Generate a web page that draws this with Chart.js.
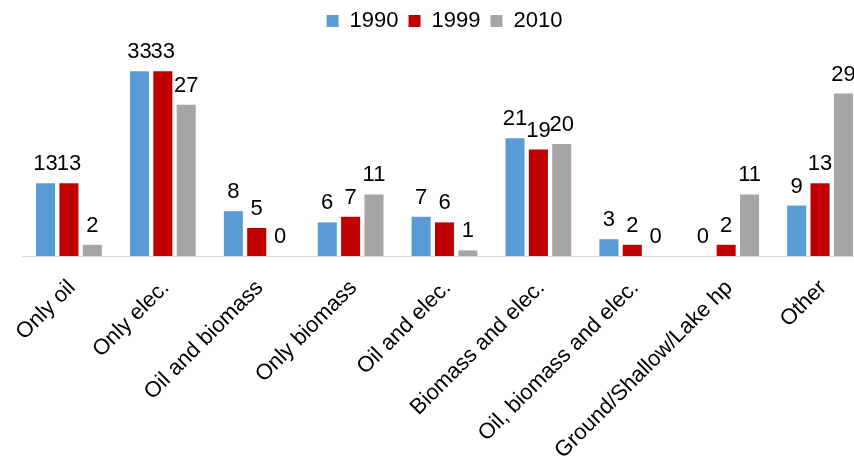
<!DOCTYPE html>
<html>
<head>
<meta charset="utf-8">
<script src="https://cdn.jsdelivr.net/npm/chart.js@4/dist/chart.umd.min.js"></script>
<style>
  html, body { margin: 0; padding: 0; background: #fff; overflow: hidden; }
  #wrap { width: 889px; height: 459px; }
</style>
</head>
<body>
<div id="wrap"><canvas id="c" width="889" height="459"></canvas></div>
<script>
const categories = [
  'Only oil', 'Only elec.', 'Oil and biomass', 'Only biomass', 'Oil and elec.',
  'Biomass and elec.', 'Oil, biomass and elec.', 'Ground/Shallow/Lake hp', 'Other'
];
const seriesNames = ['1990', '1999', '2010'];
const values1990 = [13, 33, 8, 6, 7, 21, 3, 0, 9];
const values1999 = [13, 33, 5, 7, 6, 19, 2, 2, 13];
const values2010 = [2, 27, 0, 11, 1, 20, 0, 11, 29];

const colors = ['#5B9BD5', '#C00000', '#A5A5A5'];
const FONT = '"Liberation Sans", Arial, sans-serif';

// Value labels drawn above each bar
const valueLabels = {
  id: 'valueLabels',
  afterDatasetsDraw(chart) {
    const ctx = chart.ctx;
    ctx.save();
    ctx.font = '22px ' + FONT;
    ctx.fillStyle = '#000';
    ctx.textAlign = 'center';
    ctx.textBaseline = 'alphabetic';
    chart.data.datasets.forEach((ds, i) => {
      const meta = chart.getDatasetMeta(i);
      meta.data.forEach((bar, j) => {
        ctx.fillText(String(ds.data[j]), bar.x, bar.y - 13);
      });
    });
    ctx.restore();
  }
};

new Chart(document.getElementById('c'), {
  type: 'bar',
  data: {
    labels: categories,
    datasets: [
      { label: seriesNames[0], data: values1990, backgroundColor: colors[0] },
      { label: seriesNames[1], data: values1999, backgroundColor: colors[1] },
      { label: seriesNames[2], data: values2010, backgroundColor: colors[2] }
    ]
  },
  options: {
    responsive: false,
    animation: false,
    devicePixelRatio: 1,
    datasets: { bar: { categoryPercentage: 0.747, barPercentage: 0.815 } },
    layout: { padding: { left: 22, right: 22, top: 0, bottom: 0 } },
    plugins: {
      legend: {
        position: 'top',
        labels: {
          boxWidth: 12, boxHeight: 12, padding: 10,
          color: '#000',
          font: { family: FONT, size: 22 }
        }
      },
      tooltip: { enabled: false }
    },
    scales: {
      x: {
        grid: { display: false, drawTicks: false },
        border: { display: true, color: '#D9D9D9', width: 1 },
        ticks: {
          color: '#000',
          font: { family: FONT, size: 22 },
          minRotation: 45, maxRotation: 45,
          padding: 19,
          labelOffset: 3,
          autoSkip: false
        },
        afterFit(scale) {
          scale.paddingLeft = 0;
          scale.paddingRight = 0;
          scale.height = 203;
        }
      },
      y: {
        display: false,
        min: 0,
        max: 38.2
      }
    }
  },
  plugins: [valueLabels]
});
</script>
</body>
</html>
